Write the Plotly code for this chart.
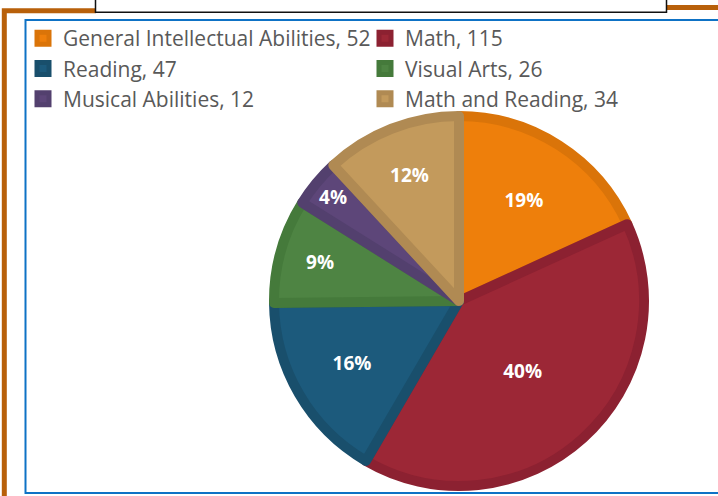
import plotly.graph_objects as go

# ---- data ----
categories = ["General Intellectual Abilities", "Math", "Reading",
              "Visual Arts", "Musical Abilities", "Math and Reading"]
counts = [52, 115, 47, 26, 12, 34]
pct_labels = ["19%", "40%", "16%", "9%", "4%", "12%"]

fill_colors = ["#EE7F0B", "#9C2736", "#1C5A7C", "#4E8443", "#5D4679", "#C39A5C"]
band_colors = ["#DA7409", "#8C2131", "#194F6C", "#457A3B", "#53406E", "#B08A53"]

W, H = 718, 496

def px(x):
    return x / W

def py(y):
    return 1 - y / H

legend_names = [f"{c}, {v}" for c, v in zip(categories, counts)]

cx, cy, R = 459, 301, 185
fig = go.Figure(go.Pie(
    labels=legend_names,
    values=counts,
    text=pct_labels,
    texttemplate="%{text}",
    textinfo="text",
    textposition="inside",
    insidetextorientation="horizontal",
    textfont=dict(family="Open Sans", size=19, color="white", weight="bold"),
    sort=False,
    direction="clockwise",
    rotation=0,
    marker=dict(colors=fill_colors, line=dict(color=band_colors, width=10)),
    domain=dict(x=[px(cx - R), px(cx + R)], y=[py(cy + R), py(cy - R)]),
    hoverinfo="label+percent",
))

shapes = [
    # outer orange frame (left + top-left)
    dict(type="path", xref="paper", yref="paper",
         path=f"M {px(4.3)},{py(500)} L {px(4.3)},{py(10.8)} L {px(96)},{py(10.8)}",
         line=dict(color="#B8600A", width=5)),
    # orange frame top-right
    dict(type="line", xref="paper", yref="paper",
         x0=px(667), x1=px(720), y0=py(7.5), y1=py(7.5),
         line=dict(color="#B8600A", width=5)),
    # title box
    dict(type="rect", xref="paper", yref="paper",
         x0=px(95.5), x1=px(666.5), y0=py(12.3), y1=py(-6),
         line=dict(color="#111111", width=1.5), fillcolor="white"),
    # blue chart-area border
    dict(type="rect", xref="paper", yref="paper",
         x0=px(25.5), x1=px(722), y0=py(493), y1=py(20),
         line=dict(color="#0E72C5", width=2), fillcolor="rgba(0,0,0,0)"),
]

fig.update_layout(
    width=W, height=H,
    margin=dict(l=0, r=0, t=0, b=0),
    paper_bgcolor="white",
    plot_bgcolor="white",
    shapes=shapes,
    showlegend=True,
    legend=dict(
        orientation="h",
        x=px(23), y=py(18), xanchor="left", yanchor="top",
        entrywidth=297, entrywidthmode="pixels",
        font=dict(family="Open Sans", size=21, color="#595959"),
        bgcolor="rgba(0,0,0,0)",
        traceorder="normal",
    ),
)

fig.write_html("out.html", config={"displayModeBar": False},
               post_script="document.body.style.margin='0';")
